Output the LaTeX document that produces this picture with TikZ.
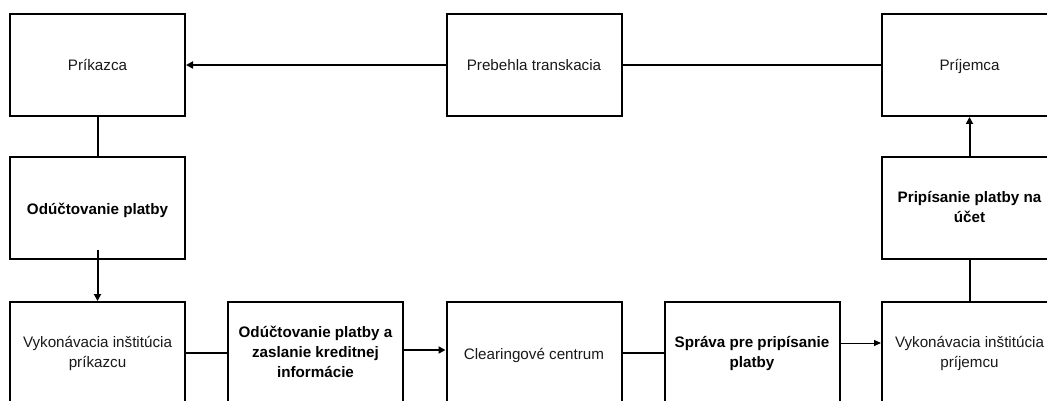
\documentclass[tikz,border=0pt]{standalone}
\usepackage{fontspec}
\setmainfont{Liberation Sans}
\usetikzlibrary{arrows.meta}
% strut for one-line labels, centres the capitals in the box
\newcommand{\onestrut}{\vrule height 16pt depth 4pt width 0pt}
\begin{document}
\begin{tikzpicture}[x=1pt,y=-1pt,
  box/.style={draw=black,line width=2pt,fill=white,minimum width=175pt,minimum height=102pt,
    align=center,inner sep=2pt,font=\fontsize{15.2}{20}\selectfont,text=black!90},
  boldbox/.style={box,font=\fontsize{15.2}{20}\selectfont\bfseries,text=black},
  link/.style={line width=2pt,draw=black},
  arr/.style={link,-{Triangle[length=7pt,width=7pt]}},
  thinarr/.style={line width=1pt,draw=black,-{Triangle[length=7pt,width=6pt]}}]
\useasboundingbox (0,0) rectangle (1047,401);
\clip (0,0) rectangle (1047,401);
\fill[white] (0,0) rectangle (1047,401);
% top row
\node[box] (prik) at (97.5,65) {\onestrut Príkazca};
\node[box] (preb) at (534,65) {\onestrut Prebehla transkacia};
\node[box] (prij) at (969.5,65) {\onestrut Príjemca};
% middle row
\node[boldbox] (odp) at (97.5,208) {\onestrut Odúčtovanie platby};
\node[boldbox] (prip) at (969.5,208) {\strut Pripísanie platby na\\\strut účet};
% bottom row
\node[box] (vykp) at (97.5,353) {\strut Vykonávacia inštitúcia\\\strut príkazcu};
\node[boldbox] (odz) at (315.5,353) {\strut Odúčtovanie platby a\\\strut zaslanie kreditnej\\\strut informácie};
\node[box] (clr) at (534,353) {\onestrut Clearingové centrum};
\node[boldbox] (spr) at (752,353) {\strut Správa pre pripísanie\\\strut platby};
\node[box] (vykr) at (969.5,353) {\strut Vykonávacia inštitúcia\\\strut príjemcu};
% connectors
\draw[arr] (preb.west) -- (prik.east);
\draw[link] (preb.east) -- (prij.west);
\draw[link] (prik.south) -- (odp.north);
\draw[arr] ([yshift=10pt]odp.south) -- (vykp.north);
\draw[link] (vykp.east) -- (odz.west);
\draw[arr] ([yshift=3pt]odz.east) -- ([yshift=3pt]clr.west);
\draw[link] (clr.east) -- (spr.west);
\draw[thinarr] ([yshift=10pt]spr.east) -- ([yshift=10pt]vykr.west);
\draw[link] (vykr.north) -- (prip.south);
\draw[arr] (prip.north) -- (prij.south);
\end{tikzpicture}
\end{document}
